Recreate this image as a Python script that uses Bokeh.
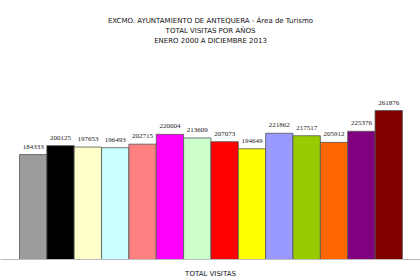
from bokeh.plotting import figure
from bokeh.models import ColumnDataSource, Range1d, Title, FixedTicker, LabelSet
from bokeh.embed import file_html
from bokeh.resources import INLINE

years = [str(y) for y in range(2000, 2014)]
visitas = [184333, 200125, 197653, 196493, 202715, 220004, 213609,
           207073, 194649, 221862, 217517, 205912, 225376, 261876]
colores = ["#9e9c9a", "#000000", "#ffffcc", "#ccffff", "#ff8080", "#ff00ff",
           "#ccffcc", "#ff0000", "#ffff00", "#9999ff", "#99cc00", "#ff6600",
           "#800080", "#800000"]
titulo = ["EXCMO. AYUNTAMIENTO DE ANTEQUERA - Área de Turismo",
          "TOTAL VISITAS POR AÑOS",
          "ENERO 2000 A DICIEMBRE 2013"]

idx = [i + 0.5 for i in range(len(years))]
src = ColumnDataSource(dict(x=idx, top=visitas, color=colores,
                            label=[str(v) for v in visitas]))

FONT = "DejaVu Sans"
bar_px = 27.35
start = -19.0 / bar_px
end = start + 420.0 / bar_px

p = figure(width=420, height=280, output_backend="svg", toolbar_location=None,
           x_range=Range1d(start, end), y_range=Range1d(0, 215 * 261876 / 149.0),
           min_border_left=0, min_border_right=0, min_border_top=44,
           min_border_bottom=0, outline_line_color=None)
p.grid.visible = False
p.yaxis.visible = False

for t in reversed(titulo):
    p.add_layout(Title(text=t, align="center", text_font=FONT,
                       text_font_size="7px", text_font_style="normal",
                       text_color="#111111", standoff=0, offset=0), "above")

p.vbar(x="x", top="top", width=1.0, fill_color="color", line_color="#555555",
       line_width=0.8, source=src)

labels = LabelSet(x="x", y="top", text="label", source=src, text_align="center",
                  text_baseline="bottom", y_offset=6, text_font_size="7px",
                  text_font=FONT, text_color="#222222")
p.add_layout(labels)

xa = p.xaxis[0]
xa.ticker = FixedTicker(ticks=[])
xa.major_tick_line_color = None
xa.minor_tick_line_color = None
xa.major_label_text_font_size = "0px"
xa.axis_line_color = "#bbbbbb"
xa.axis_label = "TOTAL VISITAS"
xa.axis_label_text_font = FONT
xa.axis_label_text_font_size = "7px"
xa.axis_label_text_font_style = "normal"
xa.axis_label_text_color = "#111111"
xa.axis_label_standoff = 10

open("out.html", "w").write(file_html(p, INLINE))
